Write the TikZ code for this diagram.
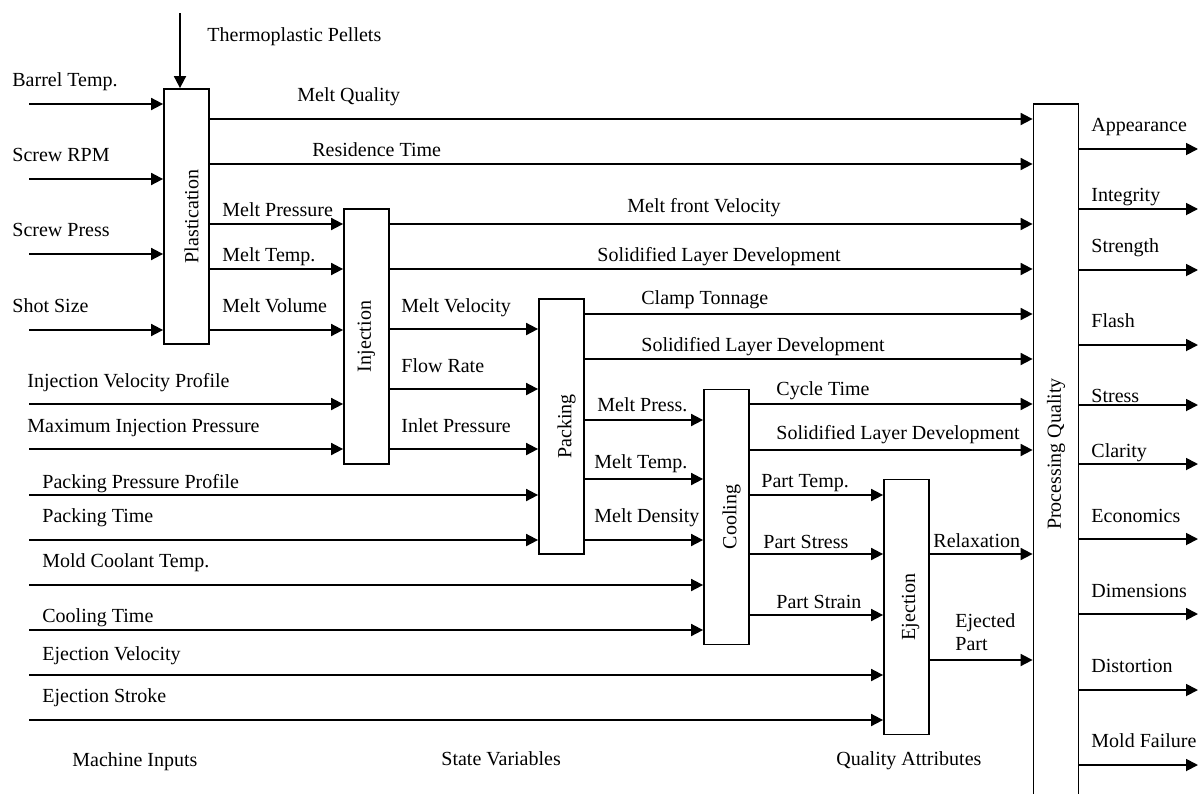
\documentclass[tikz,border=0pt]{standalone}
\usepackage{fontspec}
\setmainfont{Liberation Serif}
\usepackage{graphicx}
\usetikzlibrary{arrows.meta}
\tikzset{
  blk/.style={draw, line width=0.9pt, minimum width=22.5pt, minimum height=127.5pt,
              inner sep=0pt, font=\fontsize{10}{12}\selectfont},
  ar/.style={-{Triangle[length=6pt,width=6pt]}, line width=0.9pt},
  lbl/.style={anchor=base west, inner sep=0pt, font=\fontsize{10}{12}\selectfont},
}

\begin{document}
\begin{tikzpicture}[x=0.5pt, y=-0.5pt]
  \useasboundingbox (0,0) rectangle (1199,793);
  \clip (0,0) rectangle (1199,793);

  % process stages
  \node[blk] (plast) at (186.5,216.5) {\hspace{5pt}\rotatebox{90}{Plastication}};
  \node[blk] (inj)   at (366.5,336.5) {\rotatebox{90}{Injection}};
  \node[blk] (pack)  at (561.5,426.5) {\hspace{5pt}\rotatebox{90}{Packing}};
  \node[blk] (cool)  at (726.5,517)   {\hspace{5pt}\rotatebox{90}{Cooling}};
  \node[blk] (eject) at (906.5,607)   {\hspace{4pt}\rotatebox{90}{Ejection}};
  \node[blk, minimum height=350pt] (pq) at (1056,454)
       {\rotatebox{90}{Processing Quality}};

  % material feed
  \coordinate (feed) at (180,13);
  \draw[ar] (feed) -- (plast.north -| feed);

  % machine inputs
  \foreach \y/\b [count=\i] in {104/plast, 179/plast, 254/plast, 330/plast,
      404/inj, 449/inj, 495/pack, 540/pack, 585/cool, 630/cool,
      675/eject, 720/eject}{
    \coordinate (in\i) at (29,\y);
    \draw[ar] (in\i) -- (\b.west |- in\i);
  }

  % state variables between stages
  \foreach \a/\b/\y in {plast/pq/119, plast/pq/164, plast/inj/224, plast/inj/269,
      plast/inj/330, inj/pq/224, inj/pq/269, inj/pack/329, inj/pack/389,
      inj/pack/449, pack/pq/314, pack/pq/359, pack/cool/420, pack/cool/479,
      pack/cool/540, cool/pq/404, cool/pq/450, cool/eject/495, cool/eject/554,
      cool/eject/615, eject/pq/554, eject/pq/660}
    \draw[ar] (\a.east |- 0,\y) -- (\b.west |- 0,\y);

  % quality attributes
  \foreach \y [count=\i] in {149,209,270,345,405,464,539,614,690,765}{
    \coordinate (out\i) at (1198,\y);
    \draw[ar] (pq.east |- out\i) -- (out\i);
  }

  % texts
  \foreach \x/\y/\t [count=\i] in {
      207/41/Thermoplastic Pellets, 12/86/Barrel Temp., 12/161/Screw RPM,
      12/236/Screw Press, 12/312/Shot Size, 27/387/Injection Velocity Profile,
      27/432/Maximum Injection Pressure, 42/488/Packing Pressure Profile,
      42/522/Packing Time, 42/567/Mold Coolant Temp., 42/622/Cooling Time,
      42/660/Ejection Velocity, 42/702/Ejection Stroke,
      297/101/Melt Quality, 312/156/Residence Time, 222/216/Melt Pressure,
      222/261/Melt Temp., 222/312/Melt Volume,
      627/212/Melt front Velocity, 597/261/Solidified Layer Development,
      401/312/Melt Velocity, 401/372/Flow Rate, 401/432/Inlet Pressure,
      641/304/Clamp Tonnage, 641/351/Solidified Layer Development,
      597/411/Melt Press., 594/468/Melt Temp., 594/522/Melt Density,
      776/395/Cycle Time, 776/439/Solidified Layer Development,
      761/487/Part Temp., 763/548/Part Stress, 776/608/Part Strain,
      933/547/Relaxation,
      1091/131/Appearance, 1091/201/Integrity, 1091/252/Strength,
      1091/327/Flash, 1091/402/Stress, 1091/457/Clarity, 1091/522/Economics,
      1091/597/Dimensions, 1091/672/Distortion, 1091/747/Mold Failure,
      72/766/Machine Inputs, 441/765/State Variables, 836/765/Quality Attributes}
    \node[lbl] (t\i) at (\x,\y) {\t};
  \node[lbl, anchor=north west, align=left, font=\fontsize{10}{11.5}\selectfont]
       (tej) at (955,613) {Ejected\\Part};
\end{tikzpicture}
\end{document}
